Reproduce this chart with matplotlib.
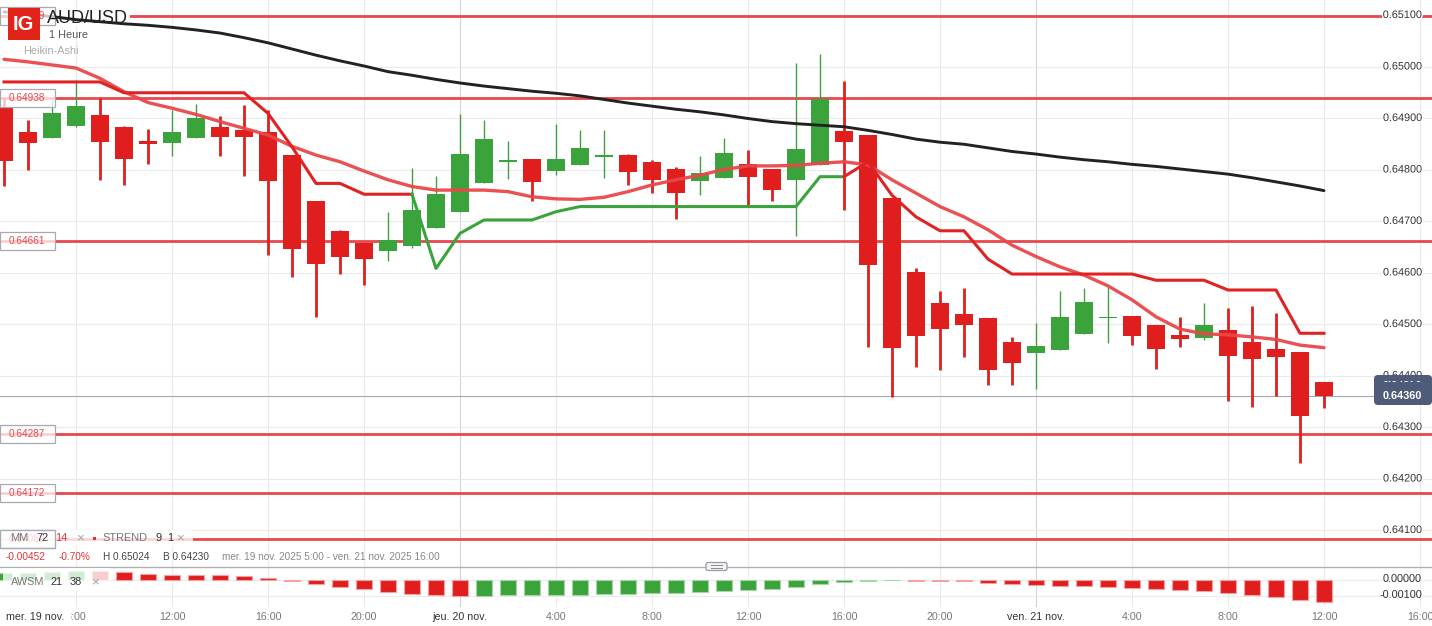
import numpy as np
import matplotlib.pyplot as plt
from matplotlib.patches import Rectangle, FancyBboxPatch
from matplotlib.transforms import blended_transform_factory, IdentityTransform
import matplotlib.patheffects as pe

plt.rcParams['font.family'] = ['Liberation Sans', 'DejaVu Sans']

# AUD/USD 1h Heikin-Ashi, mer. 19 nov 5:00 -> ven. 21 nov 12:00 (one value per hour)
ha_open = [0.64921, 0.64872, 0.64862, 0.64884, 0.64906, 0.64883, 0.64855, 0.64852, 0.64862, 0.64883,
           0.64877, 0.64872, 0.64828, 0.64739, 0.64681, 0.64657, 0.64642, 0.64652, 0.64687, 0.64718,
           0.64774, 0.64816, 0.64820, 0.64798, 0.64809, 0.64825, 0.64828, 0.64815, 0.64801, 0.64778,
           0.64784, 0.64811, 0.64801, 0.64780, 0.64809, 0.64875, 0.64867, 0.64745, 0.64601, 0.64540,
           0.64519, 0.64512, 0.64465, 0.64444, 0.64450, 0.64481, 0.64512, 0.64516, 0.64498, 0.64479,
           0.64473, 0.64488, 0.64465, 0.64452, 0.64446, 0.64387]
ha_high = [0.64940, 0.64896, 0.64935, 0.64974, 0.64938, 0.64884, 0.64879, 0.64916, 0.64927, 0.64903,
           0.64925, 0.64916, 0.64828, 0.64739, 0.64683, 0.64657, 0.64718, 0.64802, 0.64788, 0.64907,
           0.64896, 0.64855, 0.64820, 0.64888, 0.64877, 0.64877, 0.64830, 0.64818, 0.64805, 0.64826,
           0.64861, 0.64838, 0.64801, 0.65007, 0.65024, 0.64972, 0.64867, 0.64745, 0.64609, 0.64564,
           0.64570, 0.64512, 0.64475, 0.64502, 0.64564, 0.64570, 0.64572, 0.64516, 0.64498, 0.64514,
           0.64541, 0.64532, 0.64534, 0.64521, 0.64446, 0.64387]
ha_low = [0.64767, 0.64799, 0.64862, 0.64883, 0.64780, 0.64770, 0.64811, 0.64827, 0.64862, 0.64827,
          0.64788, 0.64634, 0.64592, 0.64513, 0.64597, 0.64576, 0.64623, 0.64647, 0.64687, 0.64718,
          0.64774, 0.64782, 0.64738, 0.64789, 0.64809, 0.64784, 0.64769, 0.64755, 0.64704, 0.64751,
          0.64784, 0.64730, 0.64739, 0.64670, 0.64809, 0.64721, 0.64455, 0.64359, 0.64417, 0.64411,
          0.64435, 0.64382, 0.64382, 0.64374, 0.64450, 0.64481, 0.64464, 0.64459, 0.64413, 0.64456,
          0.64468, 0.64351, 0.64338, 0.64361, 0.64230, 0.64336]
ha_close = [0.64817, 0.64852, 0.64909, 0.64923, 0.64854, 0.64820, 0.64850, 0.64872, 0.64900, 0.64864,
            0.64864, 0.64778, 0.64645, 0.64617, 0.64631, 0.64627, 0.64663, 0.64721, 0.64752, 0.64830,
            0.64859, 0.64818, 0.64776, 0.64820, 0.64842, 0.64827, 0.64795, 0.64780, 0.64755, 0.64793,
            0.64832, 0.64785, 0.64760, 0.64840, 0.64936, 0.64854, 0.64615, 0.64454, 0.64477, 0.64490,
            0.64498, 0.64411, 0.64425, 0.64457, 0.64514, 0.64543, 0.64514, 0.64477, 0.64452, 0.64470,
            0.64498, 0.64437, 0.64433, 0.64435, 0.64322, 0.64360]

mm72 = [0.65106, 0.65102, 0.65097, 0.65091, 0.65087, 0.65083, 0.65080, 0.65076, 0.65071, 0.65065,
        0.65056, 0.65046, 0.65034, 0.65022, 0.65011, 0.65001, 0.64990, 0.64983, 0.64975, 0.64968,
        0.64962, 0.64957, 0.64952, 0.64948, 0.64943, 0.64936, 0.64929, 0.64923, 0.64917, 0.64912,
        0.64906, 0.64899, 0.64893, 0.64889, 0.64886, 0.64883, 0.64876, 0.64868, 0.64859, 0.64853,
        0.64849, 0.64842, 0.64835, 0.64830, 0.64824, 0.64819, 0.64815, 0.64810, 0.64806, 0.64801,
        0.64796, 0.64791, 0.64784, 0.64776, 0.64768, 0.64759]
mm14 = [0.65014, 0.65009, 0.65003, 0.64997, 0.64977, 0.64951, 0.64930, 0.64919, 0.64907, 0.64893,
        0.64880, 0.64867, 0.64845, 0.64828, 0.64815, 0.64797, 0.64780, 0.64767, 0.64760, 0.64760,
        0.64760, 0.64757, 0.64747, 0.64743, 0.64742, 0.64746, 0.64757, 0.64770, 0.64780, 0.64789,
        0.64800, 0.64807, 0.64807, 0.64808, 0.64812, 0.64815, 0.64809, 0.64780, 0.64754, 0.64728,
        0.64708, 0.64683, 0.64653, 0.64631, 0.64611, 0.64595, 0.64574, 0.64547, 0.64514, 0.64490,
        0.64481, 0.64479, 0.64475, 0.64470, 0.64459, 0.64454]

# STREND 9 1 : value and direction (1 = haussier, -1 = baissier)
strend = [0.64970, 0.64970, 0.64970, 0.64970, 0.64970, 0.64949, 0.64949, 0.64949, 0.64949, 0.64949,
          0.64949, 0.64909, 0.64844, 0.64773, 0.64773, 0.64752, 0.64752, 0.64752, 0.64608, 0.64676,
          0.64702, 0.64702, 0.64702, 0.64718, 0.64728, 0.64728, 0.64728, 0.64728, 0.64728, 0.64728,
          0.64728, 0.64728, 0.64728, 0.64728, 0.64786, 0.64786, 0.64815, 0.64750, 0.64708, 0.64681,
          0.64681, 0.64626, 0.64597, 0.64597, 0.64597, 0.64597, 0.64597, 0.64597, 0.64585, 0.64585,
          0.64585, 0.64566, 0.64566, 0.64566, 0.64482, 0.64482]
strend_dir = [-1] * 18 + [1] * 18 + [-1] * 20

# AWSM 21 38
awsm = [0.00039, 0.00043, 0.00045, 0.00053, 0.00051, 0.00045, 0.00036, 0.00030, 0.00028, 0.00026,
        0.00020, 0.00008, -0.00009, -0.00026, -0.00045, -0.00061, -0.00080, -0.00093, -0.00099, -0.00102,
        -0.00100, -0.00099, -0.00097, -0.00095, -0.00094, -0.00093, -0.00091, -0.00086, -0.00084, -0.00080,
        -0.00074, -0.00068, -0.00061, -0.00049, -0.00030, -0.00018, -0.00008, -0.00005, -0.00007, -0.00009,
        -0.00011, -0.00020, -0.00026, -0.00033, -0.00039, -0.00043, -0.00049, -0.00055, -0.00061, -0.00066,
        -0.00074, -0.00086, -0.00099, -0.00109, -0.00126, -0.00141]

levels = [0.65099, 0.64938, 0.64661, 0.64287, 0.64172, 0.64082]
level_labels = ['0.65099', '0.64938', '0.64661', '0.64287', '0.64172', '0.64082']
last_price = 0.64360

price_ticks = [0.651, 0.650, 0.649, 0.648, 0.647, 0.646, 0.645, 0.644, 0.643, 0.642, 0.641]
awsm_ticks = [0.0, -0.001]
time_ticks = [3, 7, 11, 15, 19, 23, 27, 31, 35, 39, 43, 47, 51, 55, 59]
time_labels = ['8:00', '12:00', '16:00', '20:00', 'jeu. 20 nov.', '4:00', '8:00', '12:00',
               '16:00', '20:00', 'ven. 21 nov.', '4:00', '8:00', '12:00', '16:00']
day_ticks = [19, 43]

RED = '#e01e1e'
GREEN = '#3ba33b'
LEVEL = '#e8484c'
GRID = '#ebebeb'

W, H = 1432, 626
fig = plt.figure(figsize=(W / 100, H / 100), dpi=100)
PX = IdentityTransform()  # display pixels, origin bottom-left


def fig_txt(x, y, s, **kw):
    return fig.text(x / W, 1 - y / H, s, **kw)


def fig_rect(x, y, w, h, **kw):
    r = Rectangle((x / W, 1 - (y + h) / H), w / W, h / H, transform=fig.transFigure, **kw)
    fig.add_artist(r)
    return r


# --- panels ---
main_bot = 566.7
ax = fig.add_axes([0, 1 - main_bot / H, 1, main_bot / H])
ax2 = fig.add_axes([0, 1 - 607 / H, 1, (607 - main_bot) / H])

x = np.arange(len(ha_open))
xlim = (-4 / 24, (W - 4) / 24)
ax.set_xlim(*xlim)
ax2.set_xlim(*xlim)
ppx = 1 / 51500  # price per pixel
ax.set_ylim(0.651 - (main_bot - 15) * ppx, 0.651 + 15 * ppx)
ax2.set_ylim(-(607 - 579.5) / 16000, (579.5 - main_bot) / 16000)

for a in (ax, ax2):
    a.set_xticks([])
    a.set_yticks([])
    for s in a.spines.values():
        s.set_visible(False)
    for t in time_ticks:
        a.axvline(t, color='#d3d3db' if t in day_ticks else GRID, lw=0.8, zorder=0.5)
ax2.spines['top'].set_visible(True)
ax2.spines['top'].set_color('#b0b0b0')
ax2.spines['top'].set_linewidth(1)

for p in price_ticks:
    ax.axhline(p, color=GRID, lw=0.8, zorder=0.5)
for p in awsm_ticks:
    ax2.axhline(p, color=GRID, lw=0.8, zorder=0.5)

# levels
for lv in levels:
    ax.axhline(lv, color=LEVEL, lw=2.0, zorder=1.5)
ax.axhline(last_price, color='#a3a7b3', lw=0.8, zorder=1.6)

# white backdrop of the title (hides the top level line, not the MM line)
ax.add_patch(Rectangle((40 / W, 0.651 - 11 * ppx), 90 / W, 17 * ppx, transform=ax.get_yaxis_transform(),
                       facecolor='white', edgecolor='none', zorder=1.7))

# --- candles ---
o = np.array(ha_open)
c = np.array(ha_close)
hi = np.array(ha_high)
lo = np.array(ha_low)
up = c >= o
min_h = 1.6 * ppx
body_h = np.maximum(np.abs(c - o), min_h)
body_b = (o + c) / 2 - body_h / 2
ax.vlines(x[~up], lo[~up], hi[~up], color=RED, lw=2.0, zorder=2)
ax.vlines(x[up], lo[up], hi[up], color=GREEN, lw=1.0, zorder=2)
ax.bar(x[~up], body_h[~up], bottom=body_b[~up], width=0.75, color=RED, zorder=3)
ax.bar(x[up], body_h[up], bottom=body_b[up], width=0.75, color=GREEN, zorder=3)

# --- indicators ---
ax.plot(x, mm72, color='#222222', lw=2.1, zorder=4, solid_capstyle='round')
ax.plot(x, mm14, color='#e8474a', lw=2.4, zorder=4, alpha=0.95, solid_capstyle='round')
i = 0
n = len(strend)
while i < n:
    j = i
    while j + 1 < n and strend_dir[j + 1] == strend_dir[i]:
        j += 1
    a0 = max(i - 1, 0)
    ax.plot(x[a0:j + 1], strend[a0:j + 1], color=GREEN if strend_dir[i] > 0 else '#e02222',
            lw=2.2, zorder=4.2, solid_joinstyle='round')
    i = j + 1

# --- AWSM histogram ---
aw = np.array(awsm)
rising = np.r_[True, aw[1:] > aw[:-1]]
ax2.bar(x[rising], aw[rising], width=0.7, color=GREEN, edgecolor='#a6d6a6', lw=0.8, zorder=2)
ax2.bar(x[~rising], aw[~rising], width=0.7, color=RED, edgecolor='#f2a2a2', lw=0.8, zorder=2)

# --- right axis labels ---
ytr = ax.get_yaxis_transform()
halo = [pe.withStroke(linewidth=2, foreground='white')]
for p in price_ticks:
    ax.text(1422 / W, p, f'{p:.5f}', transform=ytr, ha='right', va='center', fontsize=7.8,
            color='#333333', zorder=6, path_effects=halo)
ytr2 = ax2.get_yaxis_transform()
for p in awsm_ticks:
    ax2.text(1422 / W, p, f'{p:.5f}', transform=ytr2, ha='right', va='center', fontsize=7.8,
             color='#333333', zorder=6)

# left level label boxes
for lv, lab in zip(levels, level_labels):
    ax.add_patch(Rectangle((0, lv - 9 * ppx), 55 / W, 18 * ppx, transform=ytr, facecolor='white',
                           alpha=0.75, edgecolor='none', zorder=5, clip_on=False))
    ax.add_patch(Rectangle((0, lv - 9 * ppx), 55 / W, 18 * ppx, transform=ytr, facecolor='none',
                           edgecolor='#a8a8b2', lw=0.9, zorder=5.1, clip_on=False))
    ax.text(27 / W, lv, lab, transform=ytr, ha='center', va='center', fontsize=7.2,
            color=LEVEL, zorder=5.2)

# last price box
box = FancyBboxPatch((1374, H - 405), 58, 30, boxstyle='round,pad=0,rounding_size=4',
                     transform=PX, facecolor='#4e5c79', edgecolor='none', zorder=2)
fig.add_artist(box)
clip = Rectangle((1374, H - 405), 58, 24, transform=PX)
t_hidden = fig_txt(1422, 379.5, '0.64370', ha='right', va='center', fontsize=7.8, color='white',
                   weight='bold', zorder=3)
t_hidden.set_clip_path(clip)
fig_txt(1422, 396, '0.64360', ha='right', va='center', fontsize=7.8, color='white',
        weight='bold', zorder=3)

# --- time axis ---
xtr = blended_transform_factory(ax2.transData, fig.transFigure)
for t, lab in zip(time_ticks, time_labels):
    day = 'nov' in lab
    ax2.text(t, 1 - 617 / H, lab, transform=xtr, ha='center', va='center', fontsize=7.7,
             color='#333333' if day else '#777777', clip_on=False)
fig_txt(6, 617, 'mer. 19 nov.', ha='left', va='center', fontsize=7.7, color='#333333',
        bbox=dict(facecolor='white', edgecolor='none', pad=4.5))

# --- header ---
fig_rect(8, 8, 32, 32, facecolor='#e2231a', edgecolor='none', zorder=2)
fig_txt(23.5, 24.5, 'IG', ha='center', va='center', fontsize=14.5, weight='bold', color='white', zorder=3)
fig_txt(47, 22.7, 'AUD/USD', ha='left', va='baseline', fontsize=13, color='#222222')
fig_txt(49, 37.7, '1 Heure', ha='left', va='baseline', fontsize=7.8, color='#555555')
fig_txt(23, 54.5, 'Heikin-Ashi', ha='left', va='baseline', fontsize=7.8, color='#aaaaaa')

# --- indicator legend rows ---
fig_rect(0, 530, 193, 17, facecolor='white', alpha=0.78, edgecolor='none', zorder=1)
fig_rect(0, 530, 55, 18, facecolor='none', edgecolor='#a8a8b2', lw=0.9, zorder=1.1)
fs = 7.9
fig_txt(10, 538, 'MM', va='center', fontsize=fs, color='#777777')
fig_txt(36, 538, '72', va='center', fontsize=fs, color='#333333')
fig_txt(55.5, 538, '14', va='center', fontsize=fs, color='#e33333')
fig_txt(76, 538, '×', va='center', fontsize=9.5, color='#a0a0a0')
fig_rect(93, 536.5, 3, 3, facecolor='#e33333', edgecolor='none', zorder=2)
fig_txt(102.5, 538, 'STREND', va='center', fontsize=fs, color='#777777')
fig_txt(155, 538, '9', va='center', fontsize=fs, color='#333333')
fig_txt(167, 538, '1', va='center', fontsize=fs, color='#333333')
fig_txt(176, 538, '×', va='center', fontsize=9.5, color='#a0a0a0')

fs2 = 7.2
fig_txt(5.5, 557.5, '-0.00452', va='center', fontsize=fs2, color='#e33333')
fig_txt(59, 557.5, '-0.70%', va='center', fontsize=fs2, color='#e33333')
fig_txt(103, 557.5, 'H 0.65024', va='center', fontsize=fs2, color='#444444')
fig_txt(163, 557.5, 'B 0.64230', va='center', fontsize=fs2, color='#444444')
fig_txt(222, 557.5, 'mer. 19 nov. 2025 5:00 - ven. 21 nov. 2025 16:00', va='center',
        fontsize=fs2, color='#888888')

fig_rect(3, 567.5, 107, 22, facecolor='white', alpha=0.78, edgecolor='none', zorder=1)
fig_txt(10.5, 582, 'AWSM', va='center', fontsize=7.8, color='#777777')
fig_txt(51, 582, '21', va='center', fontsize=7.8, color='#333333')
fig_txt(70, 582, '38', va='center', fontsize=7.8, color='#333333')
fig_txt(91, 582, '×', va='center', fontsize=9.5, color='#a0a0a0')

# panel handle
handle = FancyBboxPatch((706, H - 570.5), 21, 8, boxstyle='round,pad=0,rounding_size=2',
                        transform=PX, facecolor='#f3f3f5', edgecolor='#9a9aa6', lw=0.9, zorder=2)
fig.add_artist(handle)
for yy in (565.3, 567.6):
    fig.add_artist(plt.Line2D([711 / W, 722 / W], [1 - yy / H, 1 - yy / H], transform=fig.transFigure,
                              color='#8a8a96', lw=0.7, zorder=3))

fig.savefig('out.png', dpi=100)
